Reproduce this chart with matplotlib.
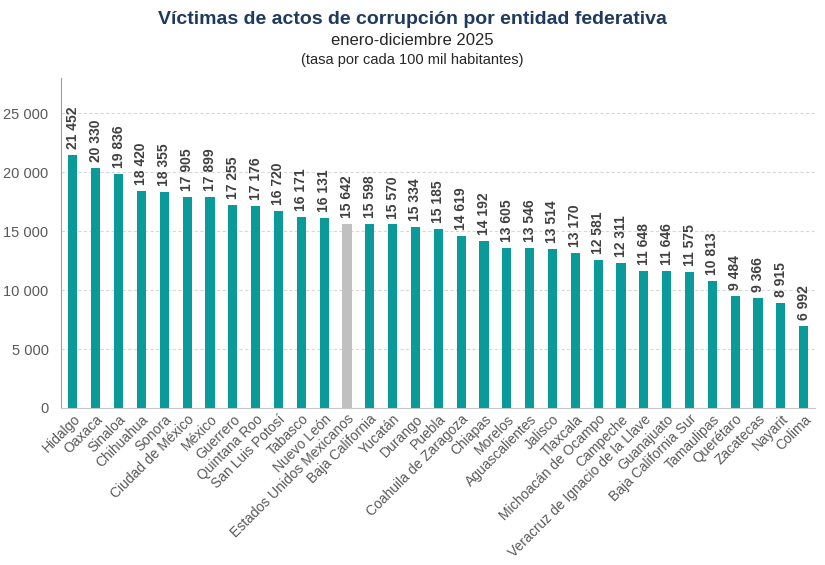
import matplotlib
matplotlib.use("Agg")
import matplotlib.pyplot as plt
from matplotlib.ticker import FuncFormatter

plt.rcParams['font.family'] = ['Liberation Sans', 'DejaVu Sans']

entidades = ["Hidalgo", "Oaxaca", "Sinaloa", "Chihuahua", "Sonora", "Ciudad de México",
             "México", "Guerrero", "Quintana Roo", "San Luis Potosí", "Tabasco", "Nuevo León",
             "Estados Unidos Mexicanos", "Baja California", "Yucatán", "Durango", "Puebla",
             "Coahuila de Zaragoza", "Chiapas", "Morelos", "Aguascalientes", "Jalisco",
             "Tlaxcala", "Michoacán de Ocampo", "Campeche", "Veracruz de Ignacio de la Llave",
             "Guanajuato", "Baja California Sur", "Tamaulipas", "Querétaro", "Zacatecas",
             "Nayarit", "Colima"]
tasa = [21452, 20330, 19836, 18420, 18355, 17905, 17899, 17255, 17176, 16720, 16171, 16131,
        15642, 15598, 15570, 15334, 15185, 14619, 14192, 13605, 13546, 13514, 13170, 12581,
        12311, 11648, 11646, 11575, 10813, 9484, 9366, 8915, 6992]

def miles(v):
    return f"{int(v):,}".replace(",", " ")

colores = ["#c0c0c0" if e == "Estados Unidos Mexicanos" else "#0a9a9a" for e in entidades]

fig = plt.figure(figsize=(8.25, 5.65), dpi=100)
ax = fig.add_axes([0.074, 0.278, 0.914, 0.584])

x = range(len(entidades))
bars = ax.bar(x, tasa, width=0.4, color=colores, zorder=3)

# etiquetas de valor sobre cada barra
for b, v in zip(bars, tasa):
    ax.text(b.get_x() + b.get_width() / 2, v + 500, miles(v), rotation=90,
            ha="center", va="bottom", fontsize=10, fontweight="bold", color="#404040")

ax.set_xlim(-0.52, len(entidades) - 0.5)
ax.set_ylim(0, 28000)
ax.set_yticks(range(0, 25001, 5000))
ax.yaxis.set_major_formatter(FuncFormatter(lambda v, p: miles(v)))
ax.set_xticks(list(x))
ax.set_xticklabels(entidades, rotation=45, ha="right", rotation_mode="anchor",
                   fontsize=10, color="#595959")
ax.tick_params(axis="y", labelsize=10.5, labelcolor="#595959", length=0, pad=9)
ax.tick_params(axis="x", length=0, pad=3)

ax.grid(axis="y", linestyle=(0, (3, 2)), color="#d8d8d8", linewidth=0.8, zorder=0)
for s in ["top", "right"]:
    ax.spines[s].set_visible(False)
ax.spines["left"].set_color("#a0a0a0")
ax.spines["bottom"].set_color("#c8c8c8")

fig.text(0.5, 0.965, "Víctimas de actos de corrupción por entidad federativa",
         ha="center", va="center", fontsize=14, fontweight="bold", color="#1f3a5f")
fig.text(0.5, 0.928, "enero-diciembre 2025", ha="center", va="center", fontsize=12, color="#262626")
fig.text(0.5, 0.893, "(tasa por cada 100 mil habitantes)", ha="center", va="center",
         fontsize=10.5, color="#262626")

fig.savefig("out.png", dpi=100)
